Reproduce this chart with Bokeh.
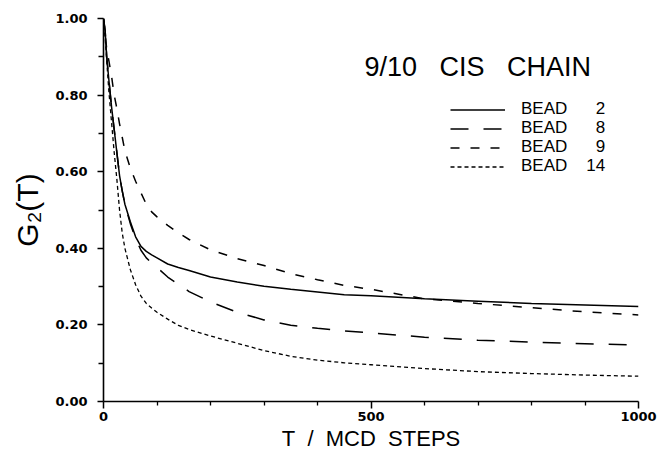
from bokeh.plotting import figure
from bokeh.models import Range1d, FixedTicker, Legend, LegendItem, Label
from bokeh.embed import file_html
from bokeh.resources import INLINE

# ---- data ----
t_steps = [0, 3, 6, 10, 15, 20, 25, 30, 35, 40, 50, 60, 70, 80, 90, 100, 120, 140, 160,
           200, 250, 300, 350, 400, 450, 500, 600, 700, 800, 900, 1000]
bead_2 = [1.00, 0.97, 0.90, 0.84, 0.77, 0.71, 0.65, 0.59, 0.55, 0.515, 0.47, 0.43, 0.405,
          0.392, 0.383, 0.375, 0.359, 0.350, 0.342, 0.325, 0.312, 0.301, 0.293, 0.286,
          0.279, 0.276, 0.268, 0.262, 0.256, 0.252, 0.248]
bead_8 = [1.00, 0.97, 0.90, 0.84, 0.77, 0.71, 0.65, 0.59, 0.55, 0.515, 0.465, 0.425, 0.395,
          0.375, 0.362, 0.350, 0.325, 0.306, 0.287, 0.260, 0.233, 0.213, 0.199, 0.191,
          0.184, 0.179, 0.168, 0.160, 0.155, 0.151, 0.147]
bead_9 = [1.00, 0.96, 0.92, 0.89, 0.85, 0.80, 0.765, 0.725, 0.69, 0.655, 0.61, 0.575, 0.545,
          0.515, 0.495, 0.482, 0.460, 0.440, 0.423, 0.396, 0.373, 0.355, 0.334, 0.318,
          0.303, 0.293, 0.268, 0.256, 0.245, 0.234, 0.226]
bead_14 = [1.00, 0.95, 0.89, 0.81, 0.73, 0.65, 0.58, 0.50, 0.44, 0.40, 0.345, 0.305, 0.275,
           0.256, 0.244, 0.233, 0.215, 0.199, 0.188, 0.171, 0.152, 0.133, 0.118, 0.108,
           0.101, 0.096, 0.086, 0.078, 0.073, 0.069, 0.066]

series_labels = ["BEAD\u00a0\u00a0\u00a0\u00a0\u20072", "BEAD\u00a0\u00a0\u00a0\u00a0\u20078",
                 "BEAD\u00a0\u00a0\u00a0\u00a0\u20079", "BEAD\u00a0\u00a0\u00a0\u00a014"]
title_text = "9/10\u00a0\u00a0\u00a0CIS\u00a0\u00a0\u00a0CHAIN"
x_major = [0, 500, 1000]
x_minor = [100, 200, 300, 400, 600, 700, 800, 900]
y_major = [0.0, 0.2, 0.4, 0.6, 0.8, 1.0]
y_minor = [0.1, 0.3, 0.5, 0.7, 0.9]

p = figure(width=658, height=453, output_backend="svg", toolbar_location=None,
           x_range=Range1d(0, 1000), y_range=Range1d(0, 1.0),
           min_border_left=103, min_border_right=20, min_border_top=18, min_border_bottom=46)
p.outline_line_color = None
p.xgrid.visible = False
p.ygrid.visible = False
p.background_fill_color = "white"
p.border_fill_color = "white"

r2 = p.line(t_steps, bead_2, line_color="black", line_width=1.5)
r8 = p.line(t_steps, bead_8, line_color="black", line_width=1.5, line_dash="18 15")
r9 = p.line(t_steps, bead_9, line_color="black", line_width=1.5, line_dash="9 11")
r14 = p.line(t_steps, bead_14, line_color="black", line_width=1.3, line_dash="4 3")
renderers = [r2, r8, r9, r14]

# axes
xa = p.xaxis[0]
xa.ticker = FixedTicker(ticks=x_major, minor_ticks=x_minor)
xa.major_label_overrides = {0: "0", 500: "500", 1000: "1000"}
xa.axis_label = "T\u00a0\u00a0/\u00a0\u00a0MCD\u00a0\u00a0STEPS"
ya = p.yaxis[0]
ya.ticker = FixedTicker(ticks=y_major, minor_ticks=y_minor)
ya.major_label_overrides = {v: f"{v:.2f}" for v in y_major}
ya.axis_label = "G\u2082(T)"

for ax in (xa, ya):
    ax.axis_line_width = 1.6
    ax.axis_line_color = "black"
    ax.major_tick_in = 0
    ax.minor_tick_in = 0
    ax.major_tick_line_width = 1.5
    ax.minor_tick_line_width = 1.3
    ax.major_label_text_font = "DejaVu Sans"
    ax.major_label_text_font_style = "bold"
    ax.major_label_text_font_size = "13px"
    ax.major_label_text_color = "black"
    ax.axis_label_text_font = "Liberation Sans"
    ax.axis_label_text_font_style = "normal"
    ax.axis_label_text_color = "black"

xa.major_tick_out = 7
xa.minor_tick_out = 4
xa.major_label_standoff = 3
xa.axis_label_text_font_size = "22px"
xa.axis_label_standoff = 2

ya.major_tick_out = 6
ya.minor_tick_out = 5
ya.major_label_standoff = 10
ya.axis_label_text_font_size = "30px"
ya.axis_label_standoff = 8

# title text
p.add_layout(Label(x=261, y=335, x_units="screen", y_units="screen", text=title_text,
                   text_font="Liberation Sans", text_font_size="27px", text_color="black",
                   text_baseline="middle", text_align="left"))

# one legend row per series, stacked 19 px apart
for i, (lab, rend) in enumerate(zip(series_labels, renderers)):
    lg = Legend(items=[LegendItem(label=lab, renderers=[rend])],
                location=(347, 282 - 19 * i), border_line_color=None,
                background_fill_alpha=0, padding=0, margin=0, spacing=0,
                label_height=19, glyph_height=19, glyph_width=55, label_standoff=16,
                label_text_font="Liberation Sans", label_text_font_size="17px",
                label_text_baseline="alphabetic", label_text_color="black")
    p.add_layout(lg)

open("out.html", "w").write(file_html(p, INLINE))
